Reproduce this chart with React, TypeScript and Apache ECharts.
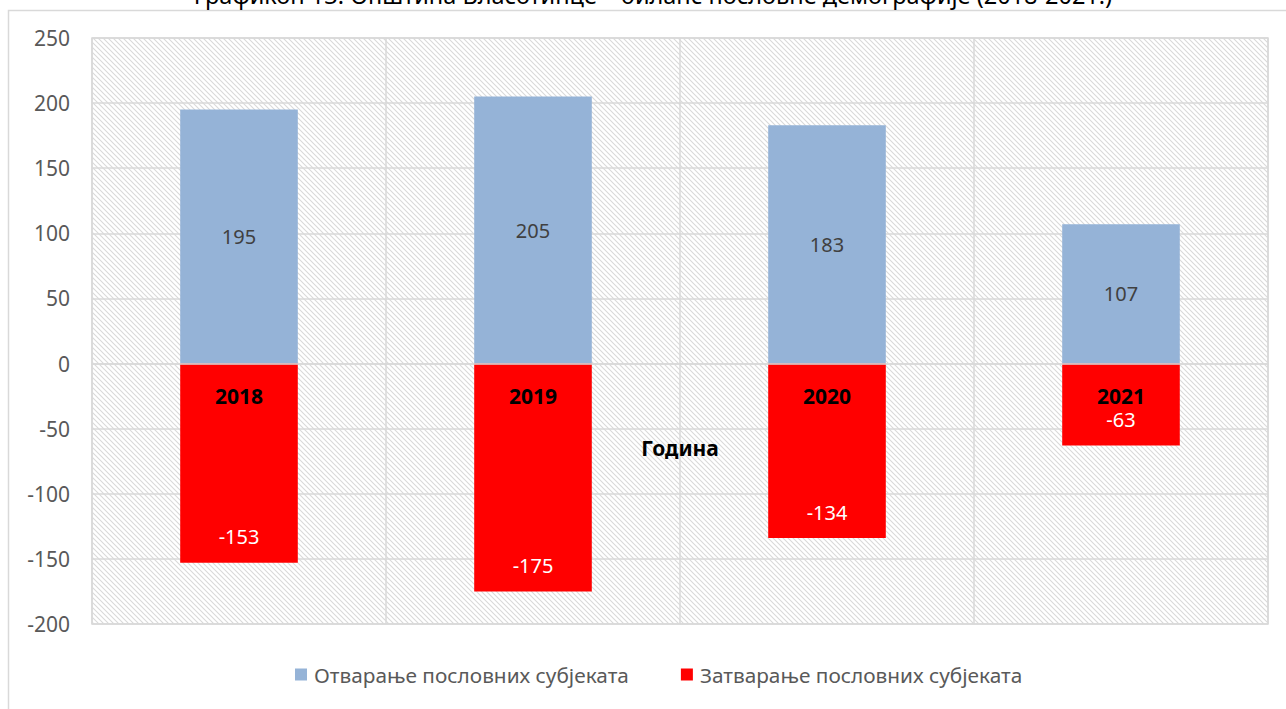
import React, { useEffect, useRef } from "react";
import * as echarts from "echarts";

const categories = ["2018", "2019", "2020", "2021"];
const openingValues = [195, 205, 183, 107];
const closingValues = [-153, -175, -134, -63];
const seriesNames = ["Отварање пословних субјеката", "Затварање пословних субјеката"];
const titleText = "Графикон 13: Општина Власотинце – биланс пословне демографије (2018-2021.)";
const axisName = "Година";
const yMin = -200;
const yMax = 250;
const yStep = 50;

const FONT = "'Noto Sans', 'DejaVu Sans', sans-serif";

const GRID_TOP = 38;
const GRID_BOTTOM = 85;
const HEIGHT = 709;
const gridHeight = HEIGHT - GRID_TOP - GRID_BOTTOM;
// move the category axis up to the zero line
const zeroOffset = -gridHeight * (0 - yMin) / (yMax - yMin);

const hatchSvg =
  "<svg xmlns='http://www.w3.org/2000/svg' width='5' height='5'>" +
  "<path d='M-1,-1 L6,6 M-1,4 L1,6 M4,-1 L6,1' stroke='#d9d9d9' stroke-width='1.1'/></svg>";
const hatchUrl = "data:image/svg+xml;charset=utf-8," + encodeURIComponent(hatchSvg);

export default function App() {
  const ref = useRef<HTMLDivElement>(null);
  useEffect(() => {
    if (!ref.current) return;
    const chart = echarts.init(ref.current, null, { renderer: "svg" });
    const img = new Image();
    img.src = hatchUrl;
    chart.setOption({
      animation: false,
      backgroundColor: "#ffffff",
      textStyle: { fontFamily: FONT },
      graphic: [
        {
          type: "rect",
          shape: { x: 8.5, y: 10.5, width: 1400, height: 800 },
          style: { fill: "none", stroke: "#d9d9d9", lineWidth: 1.5 },
          silent: true,
        },
        {
          type: "text",
          x: 653,
          y: -5,
          style: {
            text: titleText,
            fontFamily: FONT,
            fontSize: 23.5,
            fill: "#000000",
            align: "center",
            verticalAlign: "middle",
          },
        },
      ],
      grid: {
        left: 92,
        right: 18,
        top: GRID_TOP,
        bottom: GRID_BOTTOM,
        containLabel: false,
        outerBoundsMode: "none",
        show: true,
        borderColor: "#d9d9d9",
        borderWidth: 1.5,
        backgroundColor: { image: img, repeat: "repeat" } as any,
      } as any,
      legend: {
        left: 290,
        top: 659,
        itemWidth: 12,
        itemHeight: 12,
        itemGap: 52,
        icon: "rect",
        textStyle: { fontFamily: FONT, fontSize: 20.8, color: "#595959", padding: [0, 0, 0, 2] },
        data: seriesNames,
      },
      xAxis: {
        type: "category",
        data: categories,
        position: "bottom",
        offset: zeroOffset,
        axisLine: { show: true, onZero: false, lineStyle: { color: "#d9d9d9", width: 1.5 } },
        axisTick: { show: false },
        axisLabel: {
          margin: 22,
          fontFamily: FONT,
          fontSize: 21,
          fontWeight: "bold",
          color: "#000000",
        },
        splitLine: { show: true, lineStyle: { color: "#d9d9d9", width: 1.5 } },
        name: axisName,
        nameLocation: "middle",
        nameGap: 74,
        nameTextStyle: { fontFamily: FONT, fontSize: 21, fontWeight: "bold", color: "#000000" },
        z: 10,
      },
      yAxis: {
        type: "value",
        min: yMin,
        max: yMax,
        interval: yStep,
        axisLine: { show: false },
        axisTick: { show: false },
        axisLabel: { margin: 22, fontFamily: FONT, fontSize: 21, color: "#595959" },
        splitLine: { show: true, lineStyle: { color: "#d9d9d9", width: 1.5 } },
      },
      series: [
        {
          name: seriesNames[0],
          type: "bar",
          data: openingValues,
          barWidth: "40%",
          barGap: "-100%",
          itemStyle: { color: "#95b3d7" },
          label: {
            show: true,
            position: "inside",
            fontFamily: FONT,
            fontSize: 20,
            color: "#404040",
          },
        },
        {
          name: seriesNames[1],
          type: "bar",
          data: closingValues,
          barWidth: "40%",
          itemStyle: { color: "#ff0000" },
          label: {
            show: true,
            position: "insideBottom",
            distance: 16,
            fontFamily: FONT,
            fontSize: 20,
            color: "#ffffff",
          },
        },
      ],
    });
    img.onload = () => {
      chart.setOption({ grid: { backgroundColor: { image: img, repeat: "repeat" } as any } });
    };
    return () => chart.dispose();
  }, []);
  return (
    <div
      ref={ref}
      style={{ position: "absolute", left: 0, top: 0, width: 1286, height: 709 }}
    />
  );
}
